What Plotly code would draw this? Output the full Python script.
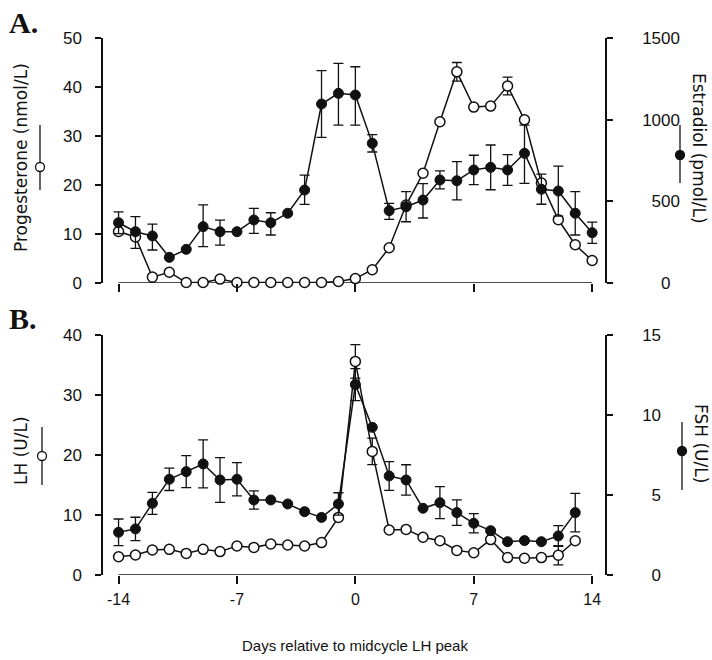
import plotly.graph_objects as go

# ---------------- data ----------------
DAYS_A = list(range(-14, 15))
DAYS_B = list(range(-14, 14))

PROGESTERONE = [10.5, 9.4, 1.2, 2.2, 0.1, 0.1, 0.8, 0.1, 0.1, 0.1, 0.1, 0.1, 0.1, 0.3,
                0.9, 2.7, 7.2, 15.9, 22.4, 32.9, 43.1, 35.9, 36.1, 40.2, 33.3, 20.4, 12.9, 7.8, 4.6]
PROG_SEM = [0, 0, 0, 0, 0, 0, 0, 0, 0, 0, 0, 0, 0, 0,
            0, 0, 0, 0, 0, 0, 1.9, 0, 0, 1.8, 0, 0, 0, 0, 0]

ESTRADIOL = [369, 314, 288, 157, 206, 345, 314, 314, 386, 369, 427, 569, 1096, 1161,
             1151, 855, 443, 467, 508, 631, 626, 692, 708, 692, 794, 574, 563, 427, 308]
E2_SEM_UP = [67, 92, 73, 0, 0, 133, 71, 0, 71, 61, 0, 92, 204, 184,
             173, 53, 45, 92, 100, 55, 117, 90, 137, 94, 173, 92, 153, 133, 65]
E2_SEM_DN = [67, 102, 86, 0, 0, 122, 82, 0, 82, 75, 0, 88, 204, 194,
             184, 53, 53, 92, 110, 55, 117, 90, 137, 94, 184, 92, 153, 133, 65]

LH = [3.05, 3.33, 4.17, 4.28, 3.6, 4.28, 3.9, 4.83, 4.6, 5.17, 5.0, 4.83, 5.4, 9.6,
      35.6, 20.6, 7.5, 7.6, 6.3, 5.7, 4.1, 3.7, 5.9, 2.9, 2.8, 2.9, 3.3, 5.7]
LH_SEM = [0, 0, 0, 0, 0, 0, 0, 0, 0, 0, 0, 0, 0, 0,
          2.8, 2.2, 0, 0, 0, 0, 0, 0, 0, 0, 0, 0, 1.6, 0]

FSH = [2.67, 2.88, 4.48, 5.98, 6.46, 6.94, 5.94, 5.98, 4.69, 4.69, 4.44, 3.96, 3.6, 4.44,
       11.9, 9.23, 6.19, 5.94, 4.17, 4.52, 3.9, 3.23, 2.77, 2.08, 2.15, 2.08, 2.44, 3.9]
FSH_SEM = [0.83, 0.73, 0.69, 0.7, 1.0, 1.5, 1.4, 1.04, 0.57, 0, 0, 0, 0, 0.7,
           1.0, 0, 0.9, 0.95, 0, 1.0, 0.8, 0.6, 0, 0, 0, 0, 0.65, 1.2]

X_TICKS = [-14, -7, 0, 7, 14]
X_TICK_TEXT = ["-14", "-7", "0", "7", "14"]
PROG_TICKS = [0, 10, 20, 30, 40, 50]
E2_TICKS = [0, 500, 1000, 1500]
LH_TICKS = [0, 10, 20, 30, 40]
FSH_TICKS = [0, 5, 10, 15]

# ---------------- layout helpers ----------------
W, H = 712, 660
ML, MR, MT, MB = 103, 107, 38, 85
PW, PH = W - ML - MR, H - MT - MB
X_RANGE = [-14.92, 14.76]


def px(x):
    return (x - ML) / PW


def py(y):
    return (H - MB - y) / PH


INK = "#111111"
SANS = "Liberation Sans, Arial, sans-serif"
WIDE = "DejaVu Sans, Verdana, sans-serif"
SERIF = "Liberation Serif, Times New Roman, serif"
FS = 15
FS_Y = 17

fig = go.Figure()


def err(up, dn=None):
    d = dict(type="data", array=up, color=INK, thickness=1.3, width=5)
    if dn is not None:
        d["symmetric"] = False
        d["arrayminus"] = dn
    else:
        d["symmetric"] = True
    return d


filled = dict(symbol="circle", size=10, color=INK, line=dict(color=INK, width=1))
opened = dict(symbol="circle", size=10, color="white", line=dict(color=INK, width=1.5))

# Panel A
fig.add_trace(go.Scatter(x=DAYS_A, y=ESTRADIOL, xaxis="x", yaxis="y2", mode="lines+markers",
                         line=dict(color=INK, width=1.5), marker=filled,
                         error_y=err(E2_SEM_UP, E2_SEM_DN), cliponaxis=False,
                         name="Estradiol"))
fig.add_trace(go.Scatter(x=DAYS_A, y=PROGESTERONE, xaxis="x", yaxis="y", mode="lines+markers",
                         line=dict(color=INK, width=1.5), marker=opened,
                         error_y=err(PROG_SEM), cliponaxis=False,
                         name="Progesterone"))
# Panel B
fig.add_trace(go.Scatter(x=DAYS_B, y=FSH, xaxis="x2", yaxis="y4", mode="lines+markers",
                         line=dict(color=INK, width=1.5), marker=filled,
                         error_y=err(FSH_SEM), cliponaxis=False, name="FSH"))
fig.add_trace(go.Scatter(x=DAYS_B, y=LH, xaxis="x2", yaxis="y3", mode="lines+markers",
                         line=dict(color=INK, width=1.5), marker=opened,
                         error_y=err(LH_SEM), cliponaxis=False, name="LH"))

ytop_A = py(38)
ybot_A = py(283)
ytop_B = py(335)

common_y = dict(showline=True, linecolor=INK, linewidth=1.5, ticks="outside", ticklen=6,
                tickwidth=1.5, tickcolor=INK, showgrid=False, zeroline=False,
                tickfont=dict(family=SANS, size=FS_Y, color=INK), fixedrange=True)
common_x = dict(showline=False, ticks="outside", ticklen=8, tickwidth=1.5, tickcolor=INK,
                showgrid=False, zeroline=False, range=X_RANGE, tickvals=X_TICKS,
                ticktext=X_TICK_TEXT, fixedrange=True,
                tickfont=dict(family=SANS, size=16, color=INK), domain=[0, 1])

fs = "\u2007"
e2_text = [(fs * 2 if v < 100 else fs if v < 1000 else "") + str(v) for v in E2_TICKS]
fsh_text = [(fs if v < 10 else "") + str(v) for v in FSH_TICKS]

fig.update_layout(
    width=W, height=H, plot_bgcolor="white", paper_bgcolor="white",
    margin=dict(l=ML, r=MR, t=MT, b=MB), showlegend=False,
    xaxis=dict(**common_x, anchor="y", showticklabels=False),
    xaxis2=dict(**common_x, anchor="y3", showticklabels=True, ticklabelstandoff=2),
    yaxis=dict(**common_y, domain=[ybot_A, ytop_A], range=[0, 50], tickvals=PROG_TICKS,
               anchor="x", ticklabelstandoff=10),
    yaxis2=dict(**common_y, range=[0, 1500], tickvals=E2_TICKS, ticktext=e2_text,
                overlaying="y", side="right", anchor="x", ticklabelstandoff=26),
    yaxis3=dict(**common_y, domain=[0, ytop_B], range=[0, 40], tickvals=LH_TICKS,
                anchor="x2", ticklabelstandoff=10),
    yaxis4=dict(**common_y, range=[0, 15], tickvals=FSH_TICKS, ticktext=fsh_text,
                overlaying="y3", side="right", anchor="x2", ticklabelstandoff=26),
)

shapes = []
# x-axis lines spanning -14..14
shapes.append(dict(type="line", xref="x", yref="y", x0=-14, x1=14, y0=0, y1=0,
                   line=dict(color=INK, width=1.5), layer="below"))
shapes.append(dict(type="line", xref="x2", yref="y3", x0=-14, x1=14, y0=0, y1=0,
                   line=dict(color=INK, width=1.5), layer="below"))


def key_symbol(xc, y_top, y_bot, yc, fill):
    shapes.append(dict(type="line", xref="paper", yref="paper", x0=px(xc), x1=px(xc),
                       y0=py(y_top), y1=py(y_bot), line=dict(color=INK, width=1.3)))
    shapes.append(dict(type="circle", xref="paper", yref="paper",
                       xsizemode="pixel", ysizemode="pixel",
                       xanchor=px(xc), yanchor=py(yc), x0=-4.5, x1=4.5, y0=-4.5, y1=4.5,
                       fillcolor=fill, line=dict(color=INK, width=1.3)))


key_symbol(40, 125, 190, 167, "white")
key_symbol(680, 125, 183, 155, INK)
key_symbol(42, 427, 485, 456, "white")
key_symbol(682, 422, 490, 451, INK)

fig.update_layout(shapes=shapes)

ann = []


def text(x, y, s, angle=0, size=FS, family=SANS, bold=False):
    ann.append(dict(xref="paper", yref="paper", x=px(x), y=py(y), text=f"<b>{s}</b>" if bold else s,
                    showarrow=False, textangle=angle, xanchor="center", yanchor="middle",
                    font=dict(family=family, size=size, color=INK)))


text(21, 158, "Progesterone (nmol/L)", angle=-90, size=17, family=WIDE)
text(699, 148, "Estradiol (pmol/L)", angle=90, size=17, family=WIDE)
text(21, 451, "LH (U/L)", angle=-90, size=17, family=WIDE)
text(701, 443, "FSH (U/L)", angle=90, size=17, family=WIDE)
text(23, 22, "A.", size=30, family=SERIF, bold=True)
text(23, 318, "B.", size=30, family=SERIF, bold=True)
text(355, 645, "Days relative to midcycle LH peak")
fig.update_layout(annotations=ann)

fig.write_html(
    "out.html",
    config={"displayModeBar": False},
    post_script="document.body.style.margin='0';document.body.style.padding='0';"
                "document.body.style.overflow='hidden';",
)
